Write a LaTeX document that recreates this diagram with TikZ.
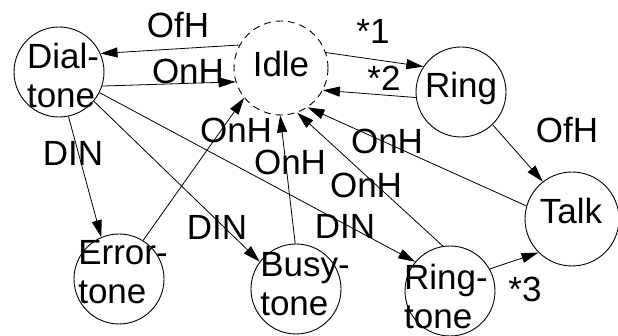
\documentclass[tikz,border=0pt]{standalone}
\usepackage{fontspec}
\setmainfont{Liberation Sans}
\usetikzlibrary{arrows.meta}
\begin{document}
\begin{tikzpicture}[x=1pt,y=-1pt,
  every node/.style={font=\fontsize{35}{39}\selectfont},
  state/.style={circle,draw,line width=0.9pt,minimum size=#1,inner sep=0pt},
  idlestate/.style={state=#1,dash pattern=on 7pt off 5pt},
  txt/.style={inner sep=0pt,align=left},
  lbl/.style={inner sep=0pt},
  arr/.style={line width=0.8pt,-{Triangle[length=17pt,width=10pt]}}
]
\useasboundingbox (0,0) rectangle (618,336);

% states
\node[state=90pt]     (dial)  at (59,72)   {};
\node[idlestate=94pt] (idle)  at (281,68)  {};
\node[state=90pt]     (ring)  at (461,92)  {};
\node[state=94pt]     (talk)  at (572,219) {};
\node[state=90pt]     (err)   at (119,279) {};
\node[state=90pt]     (busy)  at (296,289) {};
\node[state=90pt]     (ringt) at (450,291) {};

% state names
\node[txt] (dialT)  at (63,75)   {Dial-\\tone};
\node[txt] (idleT)  at (281,64)  {Idle};
\node[txt] (ringT)  at (461,88)  {Ring};
\node[txt] (talkT)  at (571,211) {Talk};
\node[txt] (errT)   at (123,272) {Error-\\tone};
\node[txt] (busyT)  at (305,284) {Busy-\\tone};
\node[txt] (ringtT) at (446,296) {Ring-\\tone};

% transitions
\draw[arr] (idle.151) -- (dial.24);
\draw[arr] (dial.-18) -- (idle.197);
\draw[arr] (idle.19) -- (ring.146);
\draw[arr] (ring.187) -- (idle.-28);
\draw[arr] (ring.-46) -- (talk.128);
\draw[arr] (talk.164) -- (idle.-56);
\draw[arr] (ringt.99) -- (idle.-70);
\draw[arr] (busy.91) -- (idle.-91);
\draw[arr] (err.58) -- (idle.219);
\draw[arr] (dial.-78) -- (err.113);
\draw[arr] (dial.-40) -- (busy.143);
\draw[arr] (dial.-27) -- (ringt.140);
\draw[arr] (ringt.29) -- (talk.225);

% transition labels
\node[lbl] (l1)  at (178,25)  {OfH};
\node[lbl] (l2)  at (188,71)  {OnH};
\node[lbl] (l3)  at (373,31)  {*1};
\node[lbl] (l4)  at (384,78)  {*2};
\node[lbl] (l5)  at (567,130) {OfH};
\node[lbl] (l6)  at (387,141) {OnH};
\node[lbl] (l7)  at (236,130) {OnH};
\node[lbl] (l8)  at (290,162) {OnH};
\node[lbl] (l9)  at (366,185) {OnH};
\node[lbl] (l10) at (73,153)  {DIN};
\node[lbl] (l11) at (217,227) {DIN};
\node[lbl] (l12) at (345,226) {DIN};
\node[lbl] (l13) at (525,289) {*3};
\end{tikzpicture}
\end{document}
